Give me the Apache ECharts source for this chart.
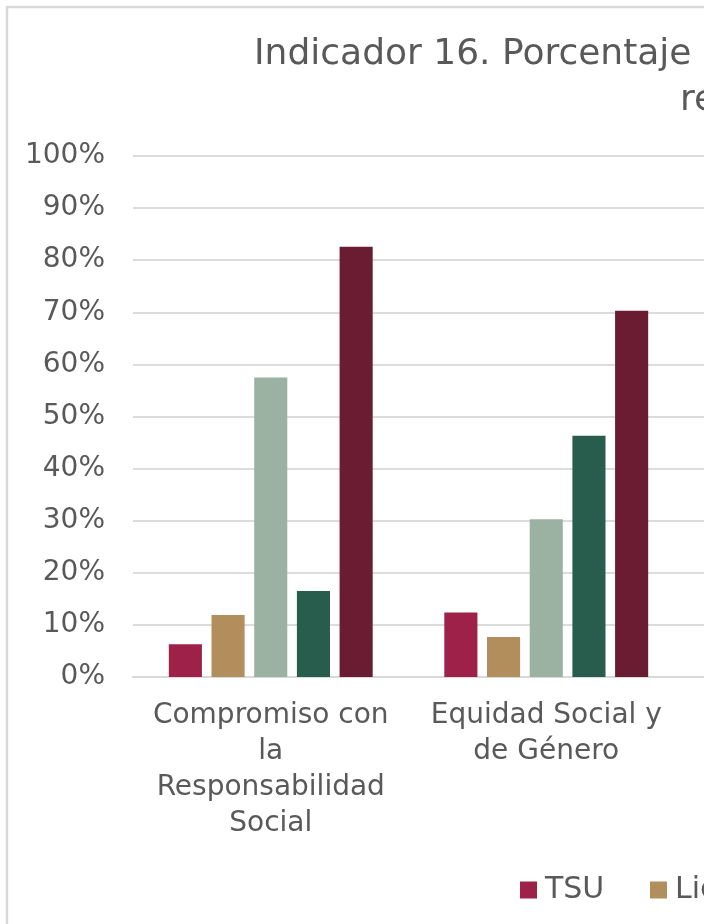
<!DOCTYPE html>
<html>
<head>
<meta charset="utf-8">
<script src="https://cdn.jsdelivr.net/npm/echarts@6/dist/echarts.min.js"></script>
<style>
html,body{margin:0;padding:0;background:#fff;overflow:hidden;}
#chart{position:absolute;left:0;top:0;width:704px;height:924px;}
</style>
</head>
<body>
<div id="chart"></div>
<script>
// Categories (third category lies outside the visible crop)
const categories = ['Compromiso con\nla\nResponsabilidad\nSocial', 'Equidad Social y\nde Género', ''];
const seriesNames = ['TSU', 'Licenciatura', 'Ingeniería', 'Maestría', 'Doctorado'];
const tsu = [6.3, 12.4, null];
const licenciatura = [11.9, 7.7, null];
const ingenieria = [57.5, 30.3, null];
const maestria = [16.5, 46.3, null];
const doctorado = [82.6, 70.3, null];
const yTicks = [0, 10, 20, 30, 40, 50, 60, 70, 80, 90, 100];
const titleLine1 = 'Indicador 16. Porcentaje';
const titleLine2 = 're';

const colors = ['#9D2148', '#B38E5D', '#9BB1A2', '#285C4D', '#691C32'];
const values = [tsu, licenciatura, ingenieria, maestria, doctorado];
const FONT = 'DejaVu Sans';
const TXT = '#595959';

const chart = echarts.init(document.getElementById('chart'), null, {renderer: 'canvas'});
chart.setOption({
  animation: false,
  backgroundColor: '#fff',
  textStyle: {fontFamily: FONT},
  graphic: [{
    type: 'rect', silent: true,
    shape: {x: 7, y: 7, width: 1200, height: 1200},
    style: {fill: 'none', stroke: '#d9d9d9', lineWidth: 2.5}
  }],
  title: [
    {text: titleLine1, left: 254, top: 37, padding: 0,
     textStyle: {fontFamily: FONT, fontSize: 36, fontWeight: 'normal', color: TXT}},
    {text: titleLine2, left: 680, top: 83, padding: 0,
     textStyle: {fontFamily: FONT, fontSize: 36, fontWeight: 'normal', color: TXT}}
  ],
  legend: [
    {data: [seriesNames[0]], left: 520, top: 875, padding: 0, itemWidth: 17, itemHeight: 17, icon: 'rect',
     textStyle: {fontFamily: FONT, fontSize: 30, color: TXT, padding: [0, 0, 0, 3]}},
    {data: [seriesNames[1]], left: 650, top: 875, padding: 0, itemWidth: 17, itemHeight: 17, icon: 'rect',
     textStyle: {fontFamily: FONT, fontSize: 30, color: TXT, padding: [0, 0, 0, 3]}}
  ],
  grid: {left: 133, top: 156, bottom: 247, right: -255.5, containLabel: false, outerBoundsMode: 'none'},
  xAxis: {
    type: 'category', data: categories,
    axisTick: {show: false},
    axisLine: {lineStyle: {color: '#d9d9d9', width: 2}},
    axisLabel: {interval: 0, fontFamily: FONT, fontSize: 28, color: TXT, lineHeight: 36, margin: 21, align: 'center'}
  },
  yAxis: {
    type: 'value', min: yTicks[0], max: yTicks[yTicks.length - 1], interval: 10,
    axisLine: {show: false}, axisTick: {show: false},
    splitLine: {lineStyle: {color: '#dcdcdc', width: 2}},
    axisLabel: {fontFamily: FONT, fontSize: 28, color: TXT, margin: 28, padding: [6, 0, 0, 0], formatter: '{value}%'}
  },
  series: seriesNames.map((n, i) => ({
    name: n, type: 'bar', data: values[i],
    barCategoryGap: '26%', barGap: '29%',
    itemStyle: {color: colors[i]}
  }))
});
</script>
</body>
</html>
